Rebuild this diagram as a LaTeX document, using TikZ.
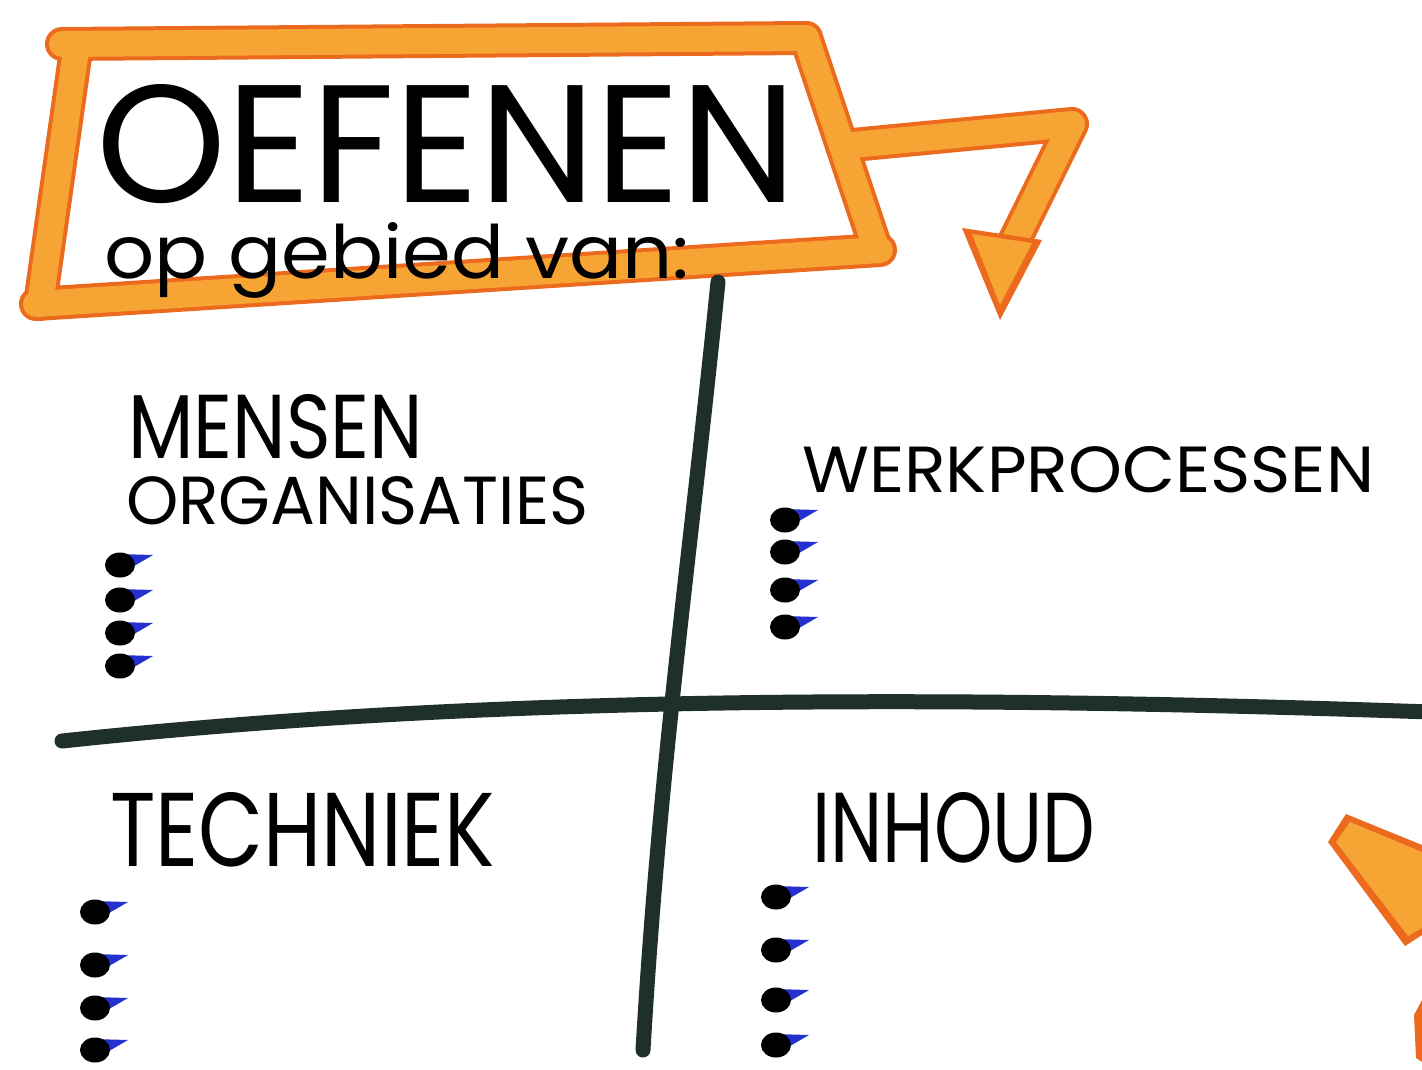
\documentclass[tikz,border=0pt]{standalone}
\usepackage{fontspec}
\usepackage{graphicx}
\setmainfont{Poppins}
\definecolor{orA}{HTML}{F6A534}
\definecolor{orB}{HTML}{EC6A1E}
\definecolor{ink}{HTML}{1F302C}
\definecolor{bblue}{HTML}{2430D0}
\tikzset{
  band/.style={line width=#1, line cap=round, line join=round},
  lbl/.style={anchor=north west, inner sep=0pt},
  quad/.style={draw=ink, line width=15pt, line cap=round},
  bul/.pic={
    \fill[bblue] (-2,-11) -- (33,-10) -- (2,8) -- cycle;
    \fill[black] (0,0) ellipse (15 and 12.5);
  }
}
\begin{document}
\begin{tikzpicture}[x=1pt,y=-1pt]
\useasboundingbox (0,0) rectangle (1422,1070);
\fill[white] (0,0) rectangle (1422,1070);
% banner
\foreach \c/\w in {orB/34pt, orA/26pt}{
  \draw[band=\w, draw=\c] (62,44) -- (806,38);
  \draw[band=\w, draw=\c] (806,38) -- (876,248);
  \draw[band=\w, draw=\c] (880,250) -- (36,304);
  \draw[band=\w, draw=\c] (40,304) -- (76,50);
  \draw[band=\w, draw=\c] (842,146) -- (1072,124) -- (1006,258);
}
\fill[orB] (962,228) -- (1042,240) -- (1000,320) -- cycle;
\fill[orA] (972,234) -- (1032,243) -- (1000,305) -- cycle;
% bottom-right orange shape
\fill[orB] (1328,842) -- (1346,814) -- (1422,845) -- (1422,935) -- (1405,946) -- cycle;
\fill[orA] (1336,842) -- (1350,822) -- (1422,852) -- (1422,928) -- (1408,936) -- cycle;
\fill[orB] (1414,1015) -- (1422,1000) -- (1422,1062) -- (1416,1058) -- cycle;
% title text
\node[lbl] (title) at (96,84) {\resizebox{700pt}{118pt}{OEFENEN}};
\node[lbl] (sub) at (104,222) {\resizebox{585pt}{56pt}{op gebied van:}};
% quadrant lines
\draw[quad] (718,282) .. controls (690,560) and (660,760) .. (643,1050);
\draw[quad] (62,741) .. controls (400,705) and (800,690) .. (1430,712);
% labels
\node[lbl] (mensen) at (128,394) {\resizebox{295pt}{64pt}{MENSEN}};
\node[lbl] (org) at (126,476) {\resizebox{462pt}{48pt}{ORGANISATIES}};
\node[lbl] (werk) at (802,446) {\resizebox{572pt}{46pt}{WERKPROCESSEN}};
\node[lbl] (tech) at (110,792) {\resizebox{385pt}{74pt}{TECHNIEK}};
\node[lbl] (inh) at (812,792) {\resizebox{283pt}{70pt}{INHOUD}};
% bullets
\foreach \y in {565,600,633,666} \pic at (120,\y) {bul};
\foreach \y in {520,552,590,627} \pic at (785,\y) {bul};
\foreach \y in {912,965,1008,1050} \pic at (95,\y) {bul};
\foreach \y in {897,950,1000,1045} \pic at (776,\y) {bul};
\end{tikzpicture}
\end{document}
